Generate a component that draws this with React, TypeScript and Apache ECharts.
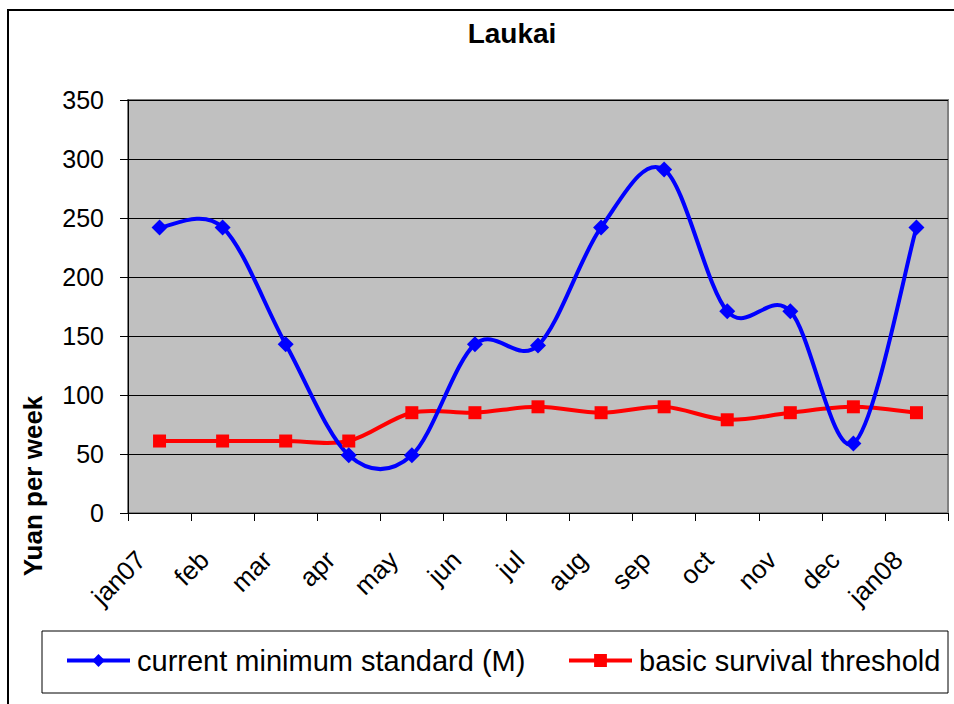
import React, { useEffect, useRef } from "react";
import * as echarts from "echarts";

const months = ["jan07", "feb", "mar", "apr", "may", "jun", "jul", "aug", "sep", "oct", "nov", "dec", "jan08"];
const currentMinimum = [242, 242, 143, 49, 49, 143, 142, 242, 291, 171, 171, 59, 242];
const survivalThreshold = [61, 61, 61, 61, 85, 85, 90, 85, 90, 79, 85, 90, 85];
const seriesNames = ["current minimum standard (M)", "basic survival threshold"];
const seriesColors = ["#0000FF", "#FF0000"];
const chartTitle = "Laukai";
const yAxisTitle = "Yuan per week";
const yMin = 0;
const yMax = 350;
const yStep = 50;

// Excel-style smoothed curve (Catmull-Rom Bezier), drawn segment by segment
// from the data points mapped through the chart's own scales.
function smoothCurve(values: number[], color: string) {
  return (params: any, api: any) => {
    const i = params.dataIndex;
    const n = values.length;
    if (i >= n - 1) return null;
    const pt = (k: number) => {
      const kk = Math.max(0, Math.min(n - 1, k));
      return api.coord([kk, values[kk]]);
    };
    const p0 = pt(i - 1);
    const p1 = pt(i);
    const p2 = pt(i + 1);
    const p3 = pt(i + 2);
    return {
      type: "bezierCurve",
      shape: {
        x1: p1[0],
        y1: p1[1],
        cpx1: p1[0] + (p2[0] - p0[0]) / 6,
        cpy1: p1[1] + (p2[1] - p0[1]) / 6,
        cpx2: p2[0] - (p3[0] - p1[0]) / 6,
        cpy2: p2[1] - (p3[1] - p1[1]) / 6,
        x2: p2[0],
        y2: p2[1],
      },
      style: { stroke: color, lineWidth: 4, fill: "none", lineCap: "round", lineJoin: "round" },
      silent: true,
    };
  };
}

export default function App() {
  const ref = useRef<HTMLDivElement>(null);
  useEffect(() => {
    const chart = echarts.init(ref.current!, null, { renderer: "svg" });
    const font = "'Liberation Sans', Arial, sans-serif";
    const legendCommon = {
      top: 646,
      padding: 0,
      itemWidth: 63,
      itemHeight: 16,
      lineStyle: { width: 4, opacity: 1 },
      textStyle: { fontSize: 29, fontFamily: font, color: "#000", padding: [0, 0, 0, 2] },
    };
    chart.setOption({
      animation: false,
      backgroundColor: "#ffffff",
      title: {
        text: chartTitle,
        left: 512,
        top: 19,
        padding: 0,
        textAlign: "center",
        textStyle: { fontSize: 28, fontWeight: "bold", fontFamily: font, color: "#000" },
      },
      grid: {
        left: 128,
        right: 6,
        top: 100,
        bottom: 191,
        show: true,
        backgroundColor: "#C0C0C0",
        borderColor: "#808080",
        borderWidth: 2,
        containLabel: false,
      },
      legend: [
        { ...legendCommon, data: [seriesNames[0]], left: 65 },
        { ...legendCommon, data: [seriesNames[1]], left: 567 },
      ],
      xAxis: {
        type: "category",
        data: months,
        boundaryGap: true,
        axisLine: { show: true, lineStyle: { color: "#000", width: 1 } },
        axisTick: { show: true, length: 8, lineStyle: { color: "#000" } },
        axisLabel: {
          rotate: 45,
          interval: 0,
          margin: 24,
          padding: [0, 26, 0, 0],
          fontSize: 26,
          fontFamily: font,
          color: "#000",
        },
        splitLine: { show: false },
      },
      yAxis: {
        type: "value",
        min: yMin,
        max: yMax,
        interval: yStep,
        axisLine: { show: true, lineStyle: { color: "#000", width: 1 } },
        axisTick: { show: true, length: 8, lineStyle: { color: "#000" } },
        axisLabel: { margin: 24, fontSize: 25, fontFamily: font, color: "#000" },
        splitLine: { show: true, lineStyle: { color: "#000", width: 1 } },
      },
      graphic: [
        {
          type: "rect",
          shape: { x: 8, y: 10, width: 980, height: 740 },
          style: { fill: "none", stroke: "#000", lineWidth: 2 },
          silent: true,
          z: 100,
        },
        {
          type: "rect",
          shape: { x: 42, y: 631, width: 906, height: 62 },
          style: { fill: "none", stroke: "#000", lineWidth: 1 },
          silent: true,
        },
        {
          type: "text",
          x: 33,
          y: 486,
          rotation: Math.PI / 2,
          style: {
            text: yAxisTitle,
            font: "bold 26px 'Liberation Sans', Arial, sans-serif",
            fill: "#000",
            align: "center",
            verticalAlign: "middle",
            textAlign: "center",
            textVerticalAlign: "middle",
          },
          silent: true,
        },
      ],
      series: [
        {
          type: "custom",
          name: seriesNames[0] + " curve",
          data: currentMinimum.map((v, i) => [i, v]),
          encode: { x: 0, y: 1 },
          renderItem: smoothCurve(currentMinimum, seriesColors[0]),
          clip: false,
          z: 3,
        },
        {
          type: "custom",
          name: seriesNames[1] + " curve",
          data: survivalThreshold.map((v, i) => [i, v]),
          encode: { x: 0, y: 1 },
          renderItem: smoothCurve(survivalThreshold, seriesColors[1]),
          clip: false,
          z: 2,
        },
        {
          name: seriesNames[0],
          type: "line",
          data: currentMinimum,
          symbol: "diamond",
          symbolSize: 16,
          itemStyle: { color: seriesColors[0] },
          lineStyle: { color: seriesColors[0], width: 0, opacity: 0 },
          z: 5,
        },
        {
          name: seriesNames[1],
          type: "line",
          data: survivalThreshold,
          symbol: "rect",
          symbolSize: 13,
          itemStyle: { color: seriesColors[1] },
          lineStyle: { color: seriesColors[1], width: 0, opacity: 0 },
          z: 4,
        },
      ],
    });
    return () => chart.dispose();
  }, []);
  return (
    <div
      ref={ref}
      style={{ position: "fixed", left: 0, top: 0, width: 954, height: 704, background: "#fff" }}
    />
  );
}
